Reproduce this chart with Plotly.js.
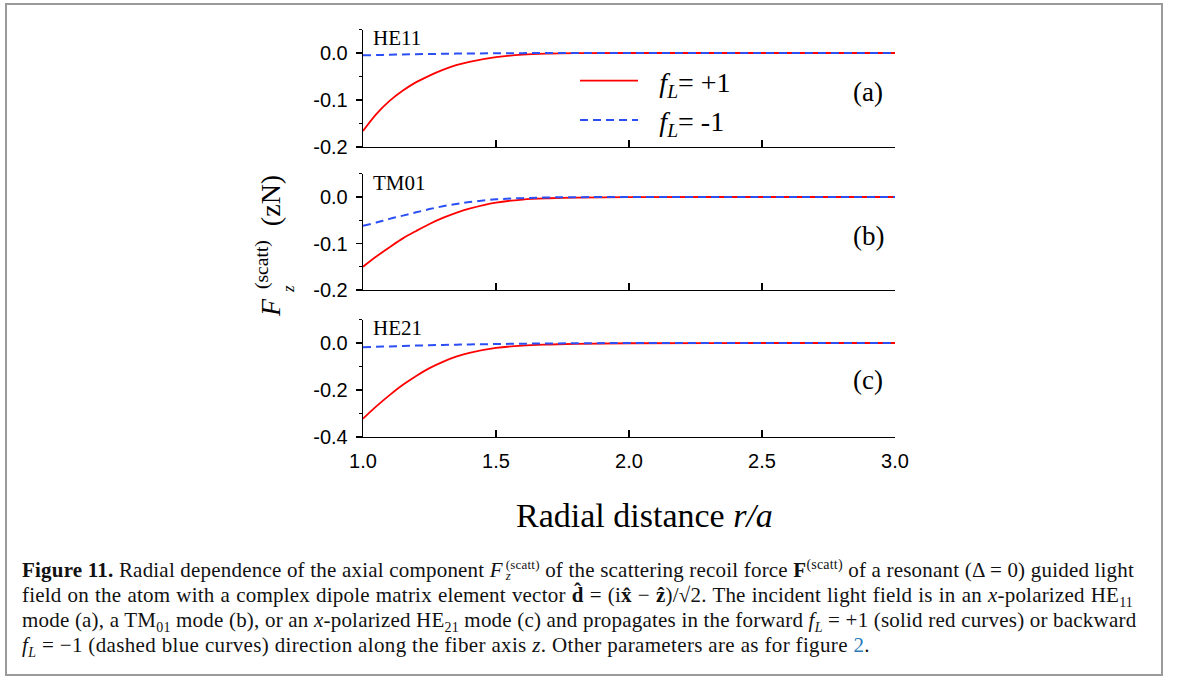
<!DOCTYPE html>
<html>
<head>
<meta charset="utf-8">
<script src="https://cdn.plot.ly/plotly-3.0.1.min.js"></script>
<style>
  html, body { margin:0; padding:0; background:#fff; }
  #wrap { position:relative; width:1179px; height:677px; overflow:hidden; }
  #chart { position:absolute; left:0; top:0; width:1179px; height:677px; }
  #frame { position:absolute; left:5px; top:3px; width:1154px; height:669px; border:2px solid #9a9a9a; pointer-events:none; }
  #caption { position:absolute; left:22px; top:558px; width:1111px; font-family:"Liberation Serif","Times New Roman",serif; font-size:21px; line-height:25px; color:#111; letter-spacing:0.2px; }
  #caption .ln { white-space:nowrap; text-align:justify; text-align-last:justify; height:25px; }
  #caption .last { text-align:left; text-align-last:left; letter-spacing:0.35px; }
  #caption sub, #caption sup { font-size:14px; line-height:0; }
  #caption .stk { display:inline-flex; flex-direction:column; vertical-align:middle; font-size:13px; line-height:11px; margin-left:3px; position:relative; top:-2px; }
  #caption .stk span { display:block; }
  .blue { color:#2a7ab8; }
</style>
</head>
<body>
<div id="wrap">
  <div id="chart"></div>
  <div id="caption">
    <div class="ln"><b>Figure 11.</b> Radial dependence of the axial component <i>F</i><span class="stk"><span>(scatt)</span><span><i>z</i></span></span> of the scattering recoil force <b>F</b><sup>(scatt)</sup> of a resonant (Δ = 0) guided light</div>
    <div class="ln">field on the atom with a complex dipole matrix element vector <b>d̂</b> = (i<b>x̂</b> − <b>ẑ</b>)/√2. The incident light field is in an <i>x</i>-polarized HE<sub>11</sub></div>
    <div class="ln">mode (a), a TM<sub>01</sub> mode (b), or an <i>x</i>-polarized HE<sub>21</sub> mode (c) and propagates in the forward <i>f</i><sub><i>L</i></sub> = +1 (solid red curves) or backward</div>
    <div class="ln last"><i>f</i><sub><i>L</i></sub> = −1 (dashed blue curves) direction along the fiber axis <i>z</i>. Other parameters are as for figure <span class="blue">2</span>.</div>
  </div>
  <div id="frame"></div>
</div>
<script>
// ---- data ----
const rOverA = [1.0, 1.05, 1.1, 1.15, 1.2, 1.25, 1.3, 1.35, 1.4, 1.5, 1.6, 1.7, 1.8, 2.0, 2.5, 3.0];

const he11Forward  = [-0.166, -0.130, -0.102, -0.080, -0.062, -0.048, -0.036, -0.026, -0.019, -0.009, -0.0035, -0.0013, -0.0004, 0, 0, 0];
const he11Backward = [-0.005, -0.0043, -0.0037, -0.0031, -0.0026, -0.0021, -0.0017, -0.0013, -0.001, -0.0006, -0.0003, -0.0001, 0, 0, 0, 0];

const tm01Forward  = [-0.150, -0.128, -0.108, -0.089, -0.073, -0.058, -0.045, -0.034, -0.025, -0.012, -0.0055, -0.0027, -0.0012, -0.0002, 0, 0];
const tm01Backward = [-0.062, -0.055, -0.047, -0.040, -0.033, -0.026, -0.020, -0.015, -0.011, -0.005, -0.0025, -0.001, -0.0004, 0, 0, 0];

const he21Forward  = [-0.322, -0.270, -0.222, -0.178, -0.140, -0.107, -0.080, -0.058, -0.042, -0.021, -0.011, -0.0065, -0.0035, -0.001, 0, 0];
const he21Backward = [-0.018, -0.016, -0.0145, -0.013, -0.011, -0.0095, -0.0085, -0.0072, -0.006, -0.0045, -0.003, -0.002, -0.001, -0.0003, 0, 0];

const xTickVals = [1.0, 1.5, 2.0, 2.5, 3.0];
const xTickText = ["1.0", "1.5", "2.0", "2.5", "3.0"];
const yTickValsAB = [0.0, -0.1, -0.2];
const yTickTextAB = ["0.0", "-0.1", "-0.2"];
const yTickValsC = [0.0, -0.2, -0.4];
const yTickTextC = ["0.0", "-0.2", "-0.4"];

const panelModes = ["HE11", "TM01", "HE21"];
const panelLetters = ["(a)", "(b)", "(c)"];
const legendNames = ["\u00a0\u00a0\u200a<i>f</i><sub><i>L</i></sub>= +1", "\u00a0\u00a0\u200a<i>f</i><sub><i>L</i></sub>= -1"];

// ---- styles ----
const RED = "#ff0000";
const BLUE = "#2b4ff5";
const serif = "Liberation Serif, Times New Roman, serif";
const sans = "Liberation Sans, Arial, sans-serif";

function fwd(y, xa, ya, show) {
  return {x: rOverA, y: y, xaxis: xa, yaxis: ya, type: "scatter", mode: "lines",
    line: {color: RED, width: 1.8, shape: "spline", smoothing: 1},
    name: legendNames[0], showlegend: show, legendgroup: "g"};
}
function bwd(y, xa, ya, show) {
  return {x: rOverA, y: y, xaxis: xa, yaxis: ya, type: "scatter", mode: "lines",
    line: {color: BLUE, width: 2, dash: "8px,5px", shape: "spline", smoothing: 1},
    name: legendNames[1], showlegend: show, legendgroup: "g"};
}

// top panel: x3/y, middle: x2/y2, bottom: x/y3
const data = [
  fwd(he11Forward, "x3", "y", true),
  bwd(he11Backward, "x3", "y", true),
  fwd(tm01Forward, "x2", "y2", false),
  bwd(tm01Backward, "x2", "y2", false),
  fwd(he21Forward, "x", "y3", false),
  bwd(he21Backward, "x", "y3", false)
];

const H = 677;
function dom(top, bot) { return [1 - bot / H, 1 - top / H]; }

function xax(anchor, labels) {
  return {anchor: anchor, domain: [0, 1], range: [1, 3], tickmode: "array", tickvals: xTickVals, ticktext: xTickText,
    showticklabels: labels, ticks: "inside", ticklen: 7, tickwidth: 1.2, tickcolor: "#000",
    showline: true, linecolor: "#000", linewidth: 1.3, showgrid: false, zeroline: false,
    tickfont: {family: sans, size: 20, color: "#000"}, ticklabelstandoff: 6};
}
function yax(anchor, d, range, tv, tt) {
  return {anchor: anchor, domain: d, range: range, tickmode: "array", tickvals: tv, ticktext: tt,
    ticks: "outside", ticklen: 6, tickwidth: 1.2, tickcolor: "#000",
    minor: {ticks: "outside", ticklen: 3, dtick: (tv[0] - tv[1]) / 2, tickcolor: "#000", tickwidth: 1},
    showline: true, linecolor: "#000", linewidth: 1.3, showgrid: false, zeroline: false,
    tickfont: {family: sans, size: 20, color: "#000"}, ticklabelstandoff: 4};
}

const px = v => (v - 363) / 532;
const py = v => 1 - v / H;

const annotations = [];
const modeY = [38, 183, 328];
const letterY = [92, 236, 380];
for (let i = 0; i < 3; i++) {
  annotations.push({xref: "paper", yref: "paper", x: px(371), y: py(modeY[i]), xanchor: "left", yanchor: "middle",
    text: panelModes[i], showarrow: false, font: {family: serif, size: 21, color: "#000"}});
  annotations.push({xref: "paper", yref: "paper", x: px(868), y: py(letterY[i]), xanchor: "center", yanchor: "middle",
    text: panelLetters[i], showarrow: false, font: {family: serif, size: 27, color: "#000"}});
}
annotations.push({xref: "paper", yref: "paper", x: px(644), y: py(515), xanchor: "center", yanchor: "middle",
  text: "Radial distance <i>r/a</i>", showarrow: false, font: {family: serif, size: 34, color: "#000"}});
annotations.push({xref: "paper", yref: "paper", x: px(268), y: py(246), xanchor: "center", yanchor: "middle", textangle: -90,
  text: "<i>F</i><sup>  (scatt)</sup>  (zN)", showarrow: false, font: {family: serif, size: 28, color: "#000"}});
annotations.push({xref: "paper", yref: "paper", x: px(288), y: py(289), xanchor: "center", yanchor: "middle", textangle: -90,
  text: "<i>z</i>", showarrow: false, font: {family: serif, size: 17, color: "#000"}});

const layout = {
  width: 1179, height: 677,
  margin: {l: 363, r: 284, t: 0, b: 0},
  paper_bgcolor: "rgba(0,0,0,0)", plot_bgcolor: "rgba(0,0,0,0)",
  showlegend: true,
  legend: {x: px(575), y: py(56), xanchor: "left", yanchor: "top", bgcolor: "rgba(0,0,0,0)",
    font: {family: serif, size: 28, color: "#000"}, itemwidth: 58, tracegroupgap: 0},
  xaxis: xax("y3", true),
  xaxis2: xax("y2", false),
  xaxis3: xax("y", false),
  yaxis3: yax("x", dom(319.5, 437), [-0.4, 0.1], yTickValsC, yTickTextC),
  yaxis2: yax("x2", dom(173.75, 290), [-0.2, 0.05], yTickValsAB, yTickTextAB),
  yaxis: yax("x3", dom(29.5, 147), [-0.2, 0.05], yTickValsAB, yTickTextAB),
  annotations: annotations
};

Plotly.newPlot("chart", data, layout, {displayModeBar: false, staticPlot: true});
</script>
</body>
</html>
